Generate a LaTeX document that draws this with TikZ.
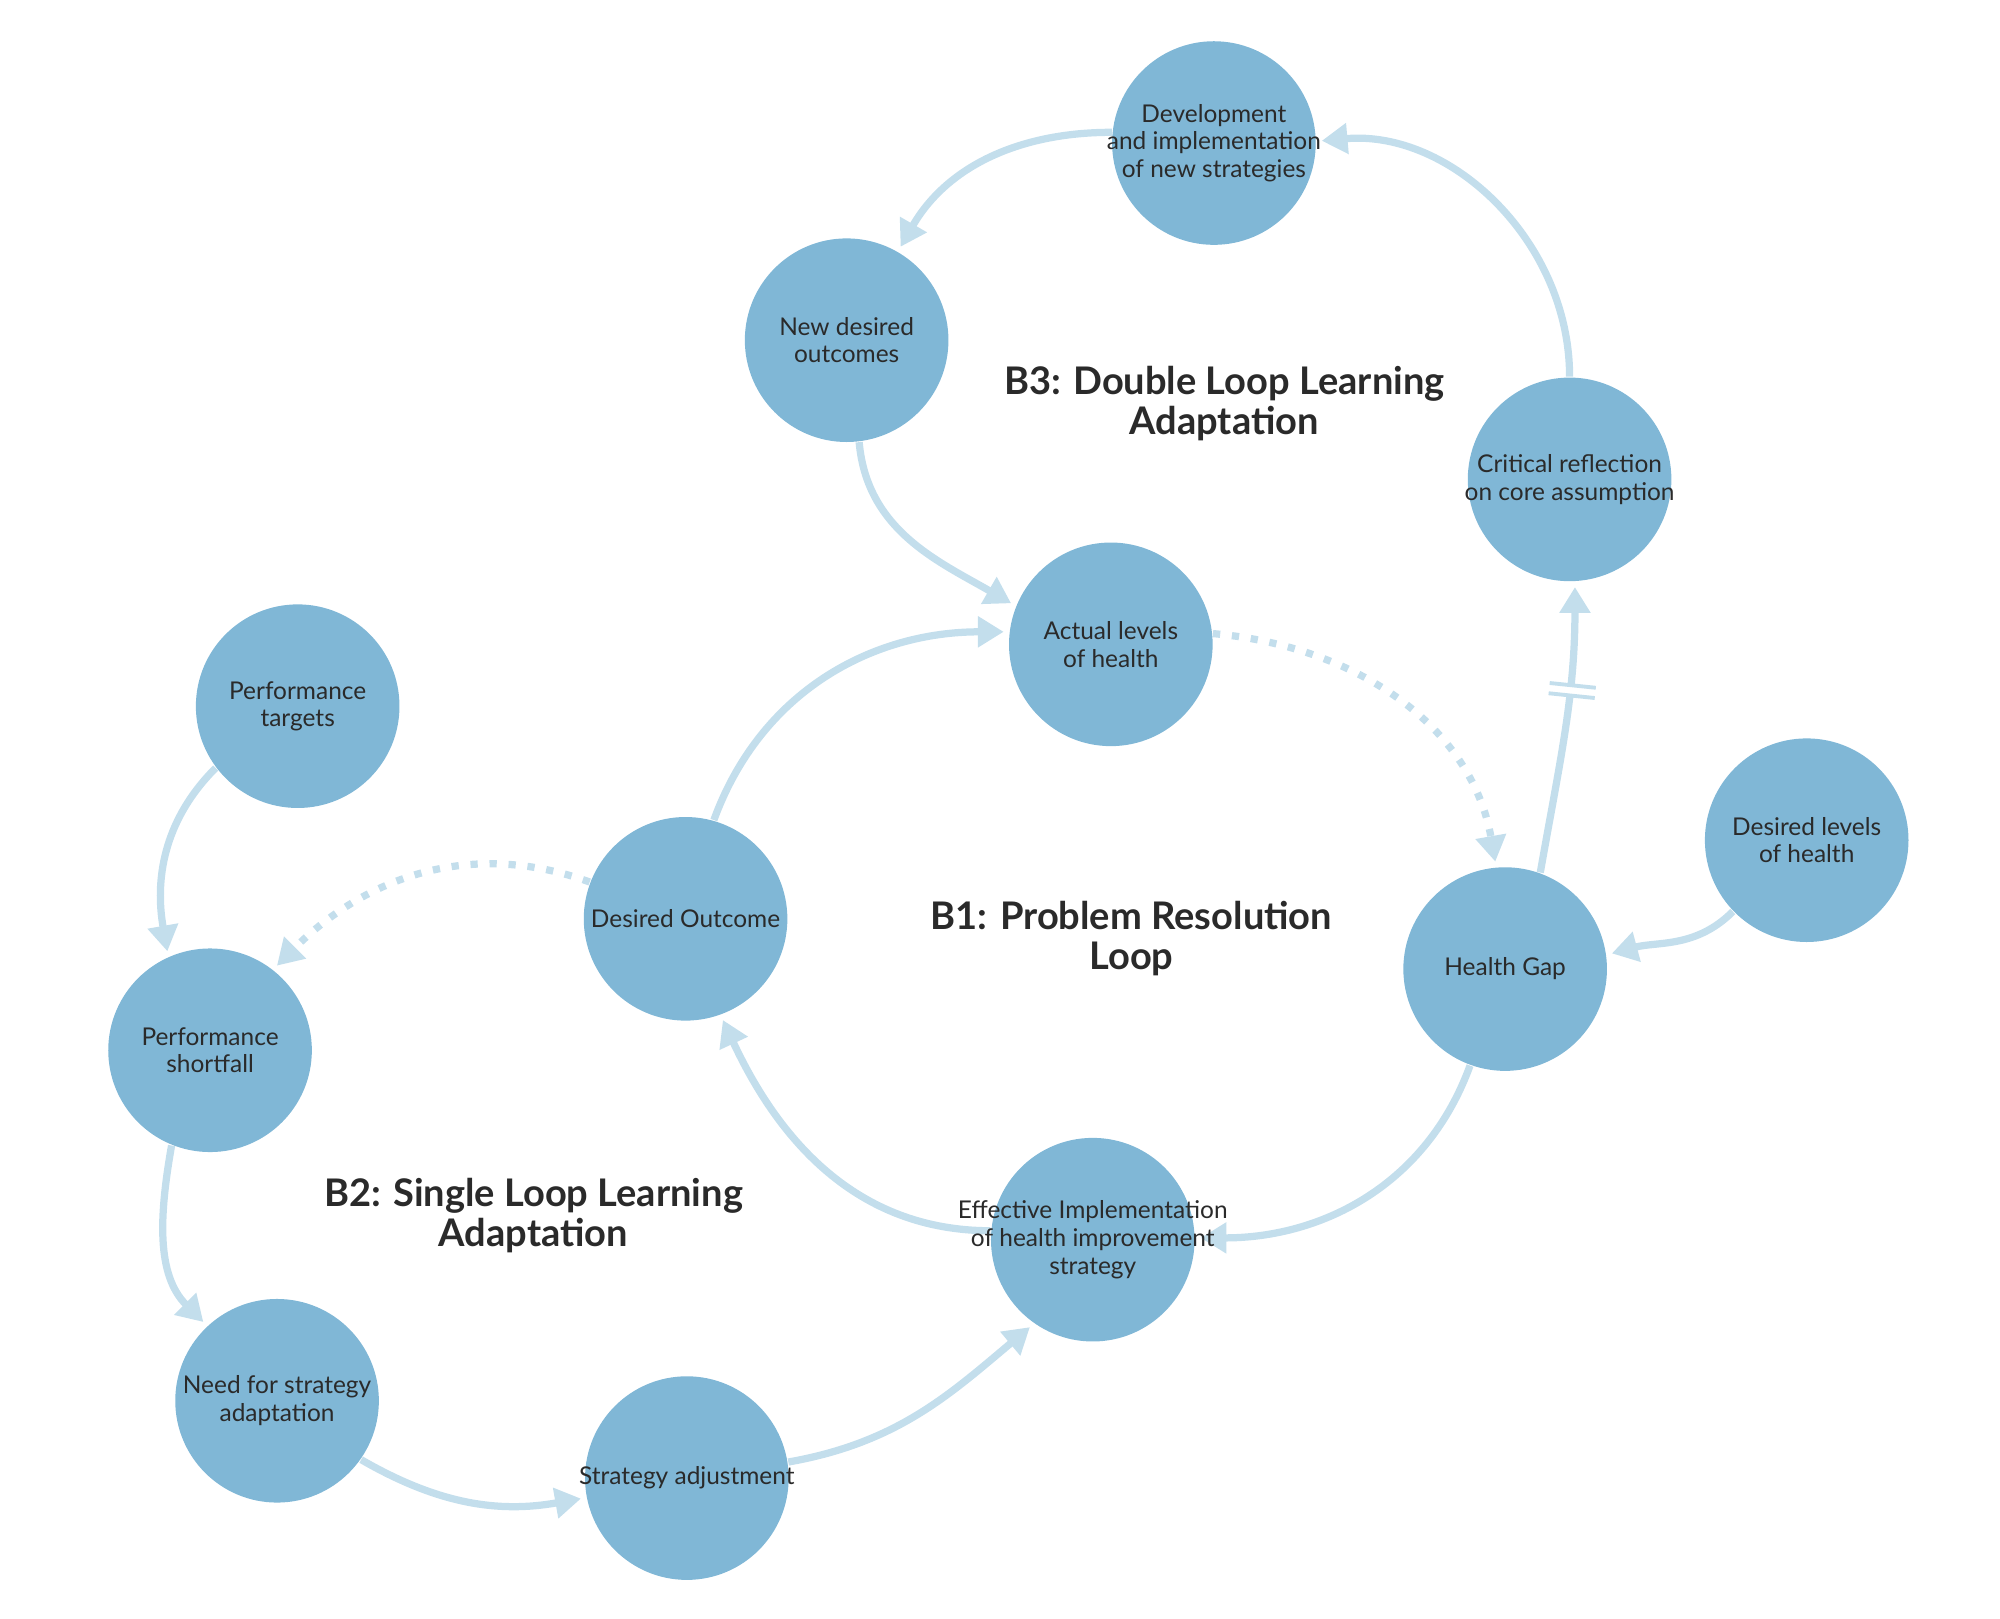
\documentclass[tikz,border=0pt]{standalone}
\usepackage{fontspec}
\setmainfont{Lato}
\usepackage{xcolor}
\usetikzlibrary{arrows.meta,decorations.markings,backgrounds}
\definecolor{nodeblue}{HTML}{80B7D6}
\definecolor{linkblue}{HTML}{C3DEEC}
\definecolor{textgray}{HTML}{2A2A2A}
\tikzset{
  loopnode/.style={circle, fill=nodeblue, minimum size=1.58cm, inner sep=0pt, align=center, text=textgray, font=\fontsize{5.4}{6.1}\selectfont},
  looplabel/.style={align=center, text=textgray, font=\fontsize{8.4}{8.8}\selectfont\bfseries},
  link/.style={draw=linkblue, line width=1.6pt, -{Triangle[length=0.2cm,width=0.23cm]}, shorten >=0.04cm},
  dotlink/.style={link, dash pattern=on 1.6pt off 2.6pt},
  delaylink/.style={link, postaction={decorate, decoration={markings, mark=at position 0.63 with {
      \fill[white] (-0.035,-0.22) rectangle (0.035,0.22);
      \draw[linkblue, line width=0.85pt, -] (-0.04,-0.2) -- (-0.04,0.2);
      \draw[linkblue, line width=0.85pt, -] (0.04,-0.2) -- (0.04,0.2);}}}},
}
\begin{document}
\begin{tikzpicture}
    \useasboundingbox (0,0) rectangle (15.52,-12.56);

    % B3 loop
    \node[loopnode] (dev) at (9.42,-1.11) {\makebox[0pt]{Development}\\\makebox[0pt]{and implementation}\\\makebox[0pt]{of new strategies}};
    \node[loopnode] (newdes) at (6.57,-2.64) {New desired\\outcomes};
    \node[loopnode] (crit) at (12.18,-3.72) {\makebox[0pt]{Critical reflection}\\\makebox[0pt]{on core assumption}};
    \node[loopnode] (actual) at (8.62,-5.00) {Actual levels\\of health};

    % B1 loop
    \node[loopnode] (dout) at (5.32,-7.13) {Desired Outcome};
    \node[loopnode] (gap) at (11.68,-7.52) {Health Gap};
    \node[loopnode] (deslev) at (14.02,-6.52) {Desired levels\\of health};
    \node[loopnode] (eff) at (8.48,-9.62) {\makebox[0pt]{Effective Implementation}\\\makebox[0pt]{of health improvement}\\\makebox[0pt]{strategy}};

    % B2 loop
    \node[loopnode] (targ) at (2.31,-5.48) {Performance\\targets};
    \node[loopnode] (short) at (1.63,-8.15) {Performance\\shortfall};
    \node[loopnode] (need) at (2.15,-10.87) {\makebox[0pt]{Need for strategy}\\\makebox[0pt]{adaptation}};
    \node[loopnode] (stradj) at (5.33,-11.47) {\makebox[0pt]{Strategy adjustment}};

    % loop labels
    \node[looplabel] (b3) at (9.50,-3.13) {B3: Double Loop Learning\\Adaptation};
    \node[looplabel] (b1) at (8.78,-7.28) {B1: Problem Resolution\\Loop};
    \node[looplabel] (b2) at (4.14,-9.43) {B2: Single Loop Learning\\Adaptation};

    % links, behind the circles
    \begin{scope}[on background layer]
    \draw[link] (dev.174) to[out=180,in=60] (newdes.60);
    \draw[link] (crit.north) to[out=90,in=5] (dev.1);
    \draw[link] (newdes.-83) to[out=-85,in=150] (actual.158);
    \draw[link] (dout.74) to[out=70,in=180] (actual.173);
    \draw[dotlink] (actual.6) to[out=-5,in=100] (gap.95);
    \draw[delaylink] (gap.70) to[out=80,in=-90] (crit.-87);
    \draw[link] (deslev.224) to[out=225,in=15] (gap.8);
    \draw[link] (gap.-110) to[out=-110,in=0] (eff.1);
    \draw[link] (eff.175) to[out=180,in=-65] (dout.-70);
    \draw[dotlink] (dout.159) to[out=160,in=45] (short.52);
    \draw[link] (targ.217) to[out=225,in=100] (short.114);
    \draw[link] (short.-112) to[out=-100,in=135] (need.133);
    \draw[link] (need.-35) to[out=-30,in=190] (stradj.191);
    \draw[link] (stradj.9) to[out=10,in=220] (eff.235);
    \end{scope}
\end{tikzpicture}
\end{document}
